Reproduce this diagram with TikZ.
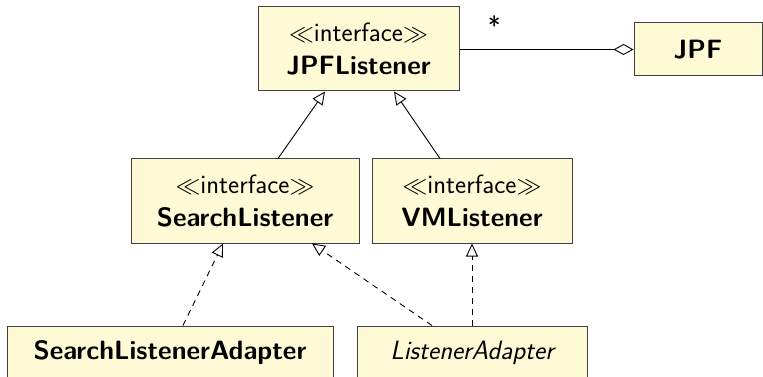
\documentclass[tikz,border=0pt]{standalone}
\usepackage{fontspec}
\usepackage{xcolor}
\usetikzlibrary{arrows.meta}
\definecolor{umlfill}{RGB}{255,250,214}
\definecolor{umldraw}{RGB}{64,64,64}

\begin{document}
\begin{tikzpicture}[x=1pt,y=-1pt]
\tikzset{classbox/.style={draw=umldraw,fill=umlfill,line width=1pt,rectangle,inner sep=0pt,align=center}}
\tikzset{inherit/.style={-{Triangle[open,length=13pt,width=12pt]},line width=0.9pt}}
\tikzset{realize/.style={inherit,dash pattern=on 6pt off 5pt}}

\fontsize{26.5}{33}\selectfont\sffamily\bfseries

\useasboundingbox (0,0) rectangle (763,377);

\node[classbox,minimum width=201pt,minimum height=84pt] (jpflistener) at (358.5,49) {{\mdseries$\ll$interface$\gg$}\\JPFListener};
\node[classbox,minimum width=128pt,minimum height=53pt] (jpf) at (698,49.5) {JPF};
\node[classbox,minimum width=228pt,minimum height=84pt] (searchlistener) at (245,201) {{\mdseries$\ll$interface$\gg$}\\SearchListener};
\node[classbox,minimum width=200pt,minimum height=84pt] (vmlistener) at (472,201) {{\mdseries$\ll$interface$\gg$}\\VMListener};
\node[classbox,minimum width=326pt,minimum height=53pt] (searchadapter) at (170,352.5) {SearchListenerAdapter};
\node[classbox,minimum width=230pt,minimum height=53pt] (listeneradapter) at (472,352.5) {\mdseries\itshape ListenerAdapter};

\draw[{Diamond[open,length=20pt,width=11pt]}-,line width=0.9pt] (jpf.west) -- (jpf.west -| jpflistener.east) node[pos=0.8,above=5pt] {\mdseries *};

\draw[inherit] ([xshift=33pt]searchlistener.north) -- ([xshift=-33.5pt]jpflistener.south);
\draw[inherit] ([xshift=-32pt]vmlistener.north) -- ([xshift=35.5pt]jpflistener.south);
\draw[realize] ([xshift=13pt]searchadapter.north) -- ([xshift=-22pt]searchlistener.south);
\draw[realize] ([xshift=-40pt]listeneradapter.north) -- ([xshift=67pt]searchlistener.south);
\draw[realize] (listeneradapter.north) -- (vmlistener.south);

\end{tikzpicture}
\end{document}
